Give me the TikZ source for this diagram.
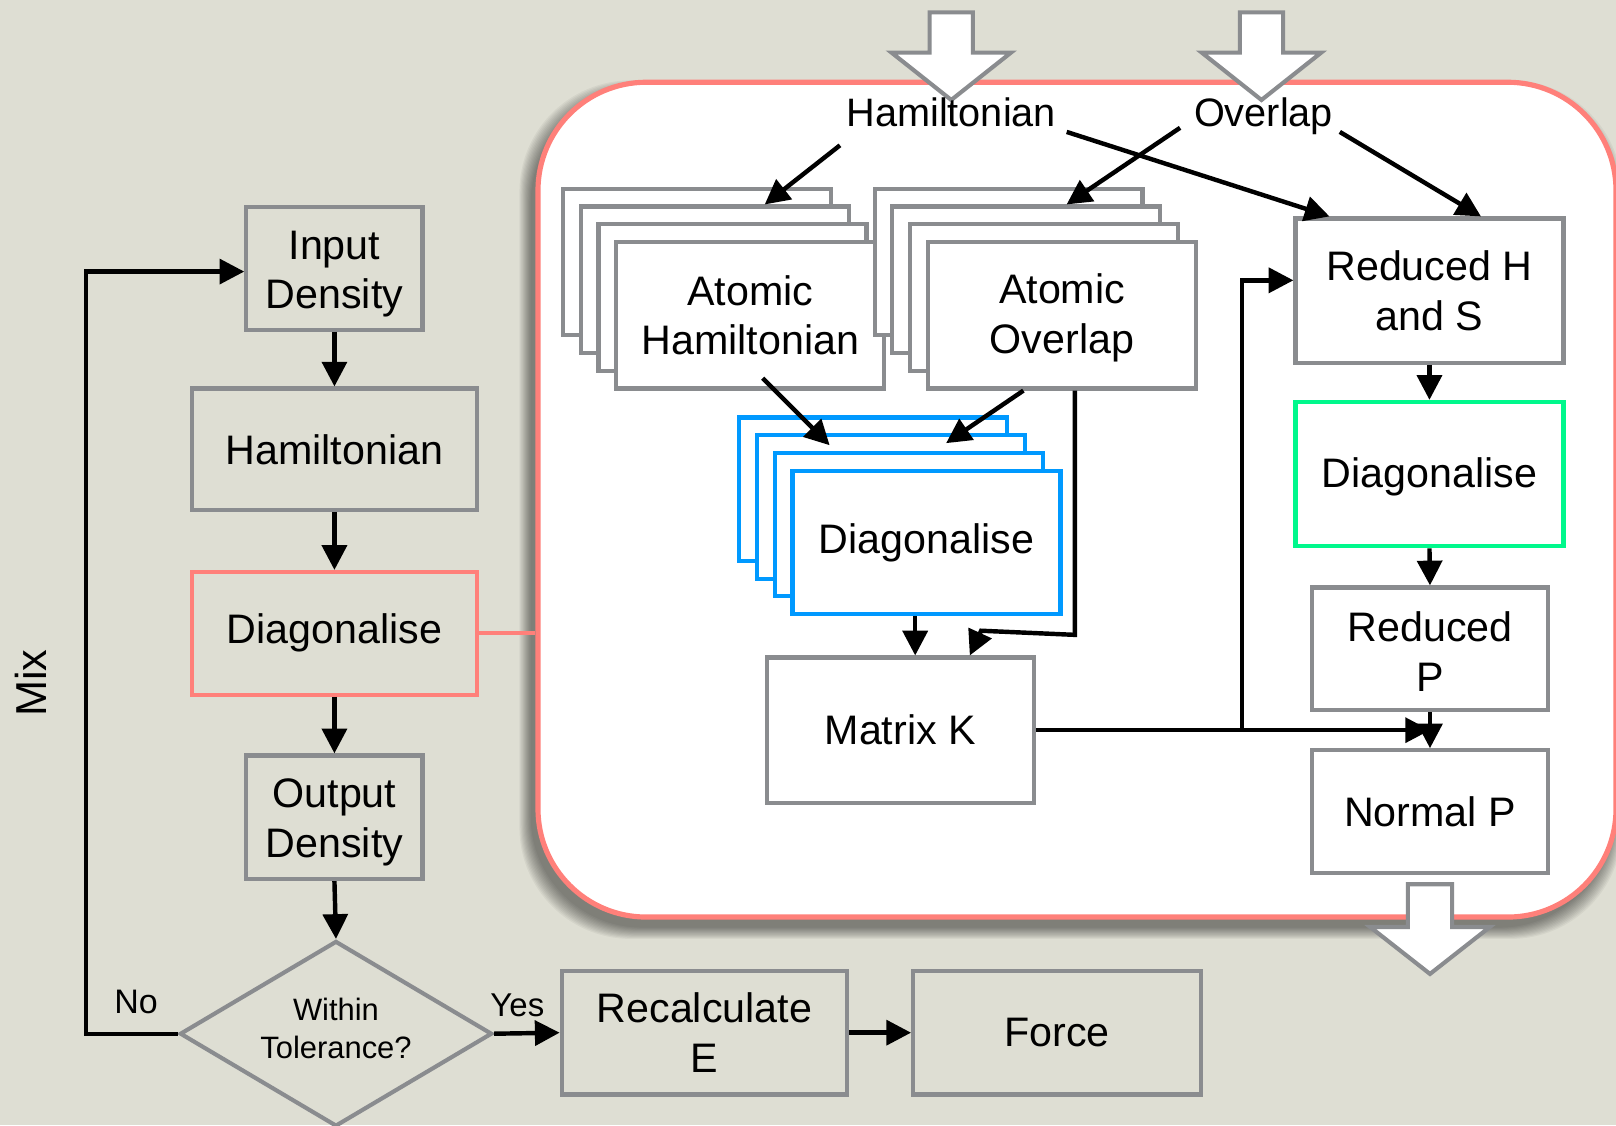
\documentclass[tikz,border=0pt]{standalone}
\usepackage{fontspec}
\setmainfont{Liberation Sans}
\usetikzlibrary{arrows.meta,calc,shapes.geometric}
\definecolor{bgc}{RGB}{222,222,211}
\definecolor{boxgray}{RGB}{138,140,143}
\definecolor{salmon}{RGB}{255,128,122}
\definecolor{bluebox}{RGB}{0,153,255}
\definecolor{greenbox}{RGB}{0,248,140}
\newcommand\fbig{\fontsize{40}{48}\selectfont}
\begin{document}
\begin{tikzpicture}[x=1pt,y=-1pt,
  gbox/.style={draw=boxgray, line width=4pt, inner sep=0pt, align=center, font=\fbig},
  wbox/.style={gbox, fill=white},
  bbox/.style={wbox, draw=bluebox},
  arr/.style={line width=4.3pt, -{Triangle[length=24pt,width=24pt]}},
  hollow/.style={draw=boxgray, fill=white, line width=4pt, line join=miter},
  lbl/.style={font=\fontsize{38.5}{46}\selectfont, inner sep=0pt, anchor=base}
]
\useasboundingbox (0,0) rectangle (1568,1092);
\fill[bgc] (0,0) rectangle (1568,1092);

% shadow of the big panel
\foreach \i in {0,...,11}{
  \fill[black, opacity=0.045, rounded corners=108pt]
    (515-\i, 89-\i) rectangle (1563+\i, 900+\i);
}
% big panel
\node[draw=salmon, fill=white, line width=5pt, rounded corners=105pt,
      minimum width=1046pt, minimum height=810pt, inner sep=0pt] (big) at (1045,484.8) {};

% ---------- left column ----------
\node[gbox, minimum width=171pt, minimum height=119pt] (in) at (324.5,260.5) {\rule{0pt}{38pt}Input\\Density};
\node[gbox, minimum width=277pt, minimum height=118pt] (ham) at (324.5,436) {Hamiltonian};
\node[gbox, draw=salmon, minimum width=277pt, minimum height=119pt] (diag) at (324.5,614.5) {Diagonalise};
\node[gbox, minimum width=171pt, minimum height=120pt] (out) at (324.5,793) {\rule{0pt}{38pt}Output\\Density};
\node[diamond, draw=boxgray, line width=4pt, inner sep=0pt,
      minimum width=303pt, minimum height=180pt] (dia) at (326,1003) {};
\node[align=center, inner sep=0pt, font=\fontsize{30}{37}\selectfont] (diatext) at ($(dia.center)+(0,-5)$) {Within\\Tolerance?};
\node[gbox, minimum width=277pt, minimum height=120pt] (rec) at (683.5,1002) {Recalculate\\E};
\node[gbox, minimum width=279pt, minimum height=120pt] (force) at (1025.5,1002) {Force};
\node[rotate=90, inner sep=0pt, font=\fontsize{42}{50}\selectfont] (mix) at (30,663) {Mix};
\node[inner sep=0pt, font=\fontsize{33}{40}\selectfont] (nolbl) at (132,972) {No};
\node[inner sep=0pt, font=\fontsize{32}{40}\selectfont] (yeslbl) at (502,975) {Yes};

\draw[arr] (in.south) -- (ham.north);
\draw[arr] (ham.south) -- (diag.north);
\draw[arr] (diag.south) -- (out.north);
\draw[arr] (out.south) -- (dia.north);
\draw[arr] (dia.west) -- ++(-89,0) |- ($(in.west)+(0,3)$);
\draw[arr] (dia.east) -- (rec.west);
\draw[arr] (rec.east) -- (force.west);
\draw[draw=salmon, line width=4pt] (diag.east) -- (diag.east -| big.west);

% ---------- inner panel ----------
% Atomic Hamiltonian stack
\foreach \k in {3,2,1}{
  \node[wbox, minimum width=260pt, minimum height=142pt] (ahb\k) at ($(728,306)+(-17.3*\k,-17.3*\k)$) {};
}
\node[wbox, minimum width=260pt, minimum height=142pt] (ah) at (728,306) {Atomic\\Hamiltonian};
% Atomic Overlap stack
\foreach \k in {3,2,1}{
  \node[wbox, minimum width=260pt, minimum height=142pt] (aob\k) at ($(1030.5,306)+(-17.3*\k,-17.3*\k)$) {};
}
\node[wbox, minimum width=260pt, minimum height=142pt] (ao) at (1030.5,306) {\rule{0pt}{34pt}Atomic\\Overlap};
% Diagonalise (blue) stack
\foreach \k in {3,2,1}{
  \node[bbox, minimum width=260pt, minimum height=139pt] (dbb\k) at ($(899,526.5)+(-17.3*\k,-17.3*\k)$) {};
}
\node[bbox, minimum width=260pt, minimum height=139pt] (db) at (899,526.5) {Diagonalise};

\node[wbox, minimum width=259pt, minimum height=141pt] (mk) at (873.5,708.5) {Matrix K};

\node[wbox, minimum width=260pt, minimum height=140pt] (rhs) at (1387,282) {Reduced H\\and S};
\node[wbox, draw=greenbox, minimum width=260pt, minimum height=140pt] (gd) at (1387,460) {\rule{0pt}{34pt}Diagonalise};
\node[wbox, minimum width=229pt, minimum height=119pt] (rp) at (1387.5,629.5) {\rule{0pt}{34pt}Reduced\\P};
\node[wbox, minimum width=229pt, minimum height=119pt] (np) at (1387.5,787.5) {Normal P};

% hollow block arrows
\draw[hollow] (902,12) -- (944,12) -- (944,51) -- (981,51) -- (923,97) -- (865,51) -- (902,51) -- cycle;
\draw[hollow] (1203,12) -- (1245,12) -- (1245,51) -- (1282,51) -- (1224,97) -- (1166,51) -- (1203,51) -- cycle;
\draw[hollow] (1366,858) -- (1409,858) -- (1409,899.5) -- (1445.5,899.5) -- (1387.5,945) -- (1329.5,899.5) -- (1366,899.5) -- cycle;

% top labels
\node[lbl] (tH) at (923,123) {Hamiltonian};
\node[lbl] (tO) at (1226,123) {Overlap};

% connectors in the panel
\draw[arr] ($(tH.base)+(-108,18)$) -- ($(ahb2.north)+(48.6,0)$);
\draw[arr] ($(tO.base)+(-81,1)$) -- ($(aob2.north)+(39,0)$);
\draw[arr] ($(tH.base)+(112,5)$) -- ($(rhs.north west)+(35,0)$);
\draw[arr] ($(tO.base)+(74,5)$) -- ($(rhs.north)+(50,0)$);

\draw[arr] ($(ah.center)+(12,61)$) -- ($(db.center)+(-94,-94.5)$);
\draw[arr] ($(ao.south)+(-37.5,0)$) -- ($(db.center)+(19,-96.5)$);
\draw[arr] ($(ao.south)+(12.5,0)$) -- ($(ao.south)+(12.5,237)$) -- ($(mk.north)+(78.5,-24)$) -- ($(mk.north)+(67.5,0)$);
\draw[arr] ($(db.south)+(-11,0)$) -- ($(mk.north)+(14.5,0)$);

\draw[arr] (mk.east) -- (np.north |- mk.east);
\draw[arr] ($(mk.east)+(200,0)$) |- ($(rhs.west)+(0,-10)$);

\draw[arr] (rhs.south) -- (gd.north);
\draw[arr] (gd.south) -- (rp.north);
\draw[arr] (rp.south) -- (np.north);
\end{tikzpicture}
\end{document}
